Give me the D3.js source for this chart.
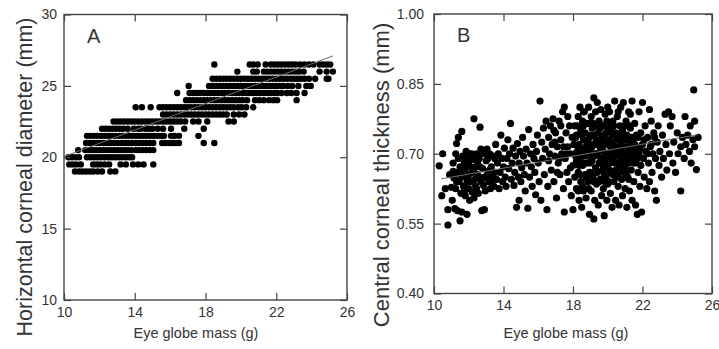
<!DOCTYPE html>
<html>
<head>
<meta charset="utf-8">
<script src="https://cdn.jsdelivr.net/npm/d3@7"></script>
<style>
  html, body { margin: 0; padding: 0; background: #fff; }
  svg { display: block; }
  text { font-family: "Liberation Sans", Arial, sans-serif; fill: #333; }
</style>
</head>
<body>
<script>
// ---------- Panel A data: horizontal corneal diameter (mm), recorded in 0.5 mm steps ----------
const diamLevels = [19, 19.5, 20, 20.5, 21, 21.5, 22, 22.5, 23, 23.5, 24, 24.5, 25, 25.5, 26, 26.5];
const massAt19   = [10.62, 10.85, 11.05, 11.25, 11.45, 11.65, 11.9, 12.15, 12.62, 12.9];
const massAt19_5 = [10.3, 10.5, 10.7, 10.95, 11.65, 11.85, 12.05, 12.3, 12.55, 13.2, 13.5, 13.9, 14.2, 14.5, 15.05];
const massAt20   = [10.25, 10.45, 10.65, 10.85, 11.3, 11.5, 11.7, 11.9, 12.1, 12.3, 12.5, 12.7, 12.9, 13.1, 13.3, 13.5, 13.7, 13.85];
const massAt20_5 = [10.8, 11.2, 11.4, 11.6, 11.8, 12.0, 12.2, 12.4, 12.6, 12.8, 13.0, 13.2, 13.4, 13.6, 13.8, 14.05, 14.25, 14.45, 14.65, 14.85, 15.05];
const massAt21   = [11.25, 11.45, 11.65, 11.85, 12.05, 12.25, 12.45, 12.65, 12.85, 13.05, 13.25, 13.45, 13.65, 13.85, 14.05, 14.25, 14.45, 14.65, 14.85, 15.05, 15.55, 15.75, 15.95, 16.15, 16.35, 16.5, 17.9, 18.5];
const massAt21_5 = [11.3, 11.5, 11.7, 11.9, 12.1, 12.3, 12.5, 12.7, 12.9, 13.1, 13.3, 13.5, 13.7, 13.9, 14.1, 14.3, 14.5, 14.7, 14.9, 15.1, 15.3, 15.5, 15.65, 16.05, 16.25, 16.5, 17.6];
const massAt22   = [12.15, 12.35, 12.55, 12.75, 12.95, 13.15, 13.35, 13.6, 13.95, 14.2, 14.35, 14.6, 14.8, 15.0, 15.3, 15.6, 16.05, 16.8, 17.9];
const massAt22_5 = [12.8, 13.0, 13.2, 13.4, 13.6, 13.8, 14.0, 14.2, 14.4, 14.6, 14.8, 15.0, 15.2, 15.4, 15.6, 15.8, 16.0, 16.2, 16.4, 16.6, 16.85, 17.3, 17.6, 18.1, 19.3, 19.6];
const massAt23   = [15.6, 15.8, 16.0, 16.2, 16.4, 16.6, 16.8, 17.0, 17.2, 17.4, 17.6, 17.8, 18.0, 18.2, 18.4, 18.6, 18.8, 19.0, 19.2, 19.6, 19.9, 20.2];
const massAt23_5 = [14.05, 14.4, 14.9, 15.4, 15.6, 15.8, 16.0, 16.2, 16.4, 16.6, 16.8, 17.0, 17.2, 17.4, 17.6, 17.8, 18.0, 18.2, 18.4, 18.6, 18.8, 19.0, 19.2, 19.4, 19.6, 19.85, 20.05, 20.3, 20.7];
const massAt24   = [16.9, 17.1, 17.3, 17.5, 17.7, 17.9, 18.1, 18.3, 18.5, 18.7, 18.9, 19.1, 19.3, 19.5, 19.7, 19.9, 20.1, 20.35, 20.8, 21.05, 21.3, 21.6, 21.85, 22.05, 23.15];
const massAt24_5 = [16.4, 17.1, 17.3, 17.5, 17.7, 17.9, 18.1, 18.3, 18.5, 18.7, 18.9, 19.1, 19.3, 19.5, 19.7, 19.9, 20.1, 20.3, 20.5, 20.7, 20.9, 21.1, 21.3, 21.5, 21.7, 21.9, 22.05, 22.3, 22.6, 22.85, 23.15, 23.6];
const massAt25   = [17.05, 18.2, 18.4, 18.6, 18.8, 19.0, 19.2, 19.4, 19.6, 19.8, 20.0, 20.2, 20.4, 20.6, 20.8, 21.0, 21.2, 21.4, 21.6, 21.8, 22.0, 22.2, 22.4, 22.65, 22.9, 23.25, 23.7, 23.95];
const massAt25_5 = [18.4, 18.6, 18.8, 19.0, 19.2, 19.4, 19.6, 19.8, 20.0, 20.2, 20.4, 20.6, 20.8, 21.0, 21.2, 21.4, 21.6, 21.8, 22.0, 22.2, 22.4, 22.6, 22.8, 23.0, 23.2, 23.4, 23.6, 23.85, 24.2, 24.85, 24.95];
const massAt26   = [19.8, 20.7, 20.9, 21.3, 21.5, 21.7, 21.9, 22.1, 22.3, 22.5, 22.7, 22.9, 23.1, 23.3, 23.55, 24.45, 24.85, 25.2];
const massAt26_5 = [18.5, 20.5, 20.7, 20.95, 21.4, 21.7, 21.9, 22.1, 22.3, 22.5, 22.7, 22.9, 23.1, 23.35, 23.6, 23.85, 24.1, 24.45, 24.65, 24.85, 25.05];
const massByLevel = [massAt19, massAt19_5, massAt20, massAt20_5, massAt21, massAt21_5, massAt22, massAt22_5,
                     massAt23, massAt23_5, massAt24, massAt24_5, massAt25, massAt25_5, massAt26, massAt26_5];
const fitA = [[10.0, 20.05], [25.2, 27.1]];

// ---------- Panel B data: [eye globe mass (g), central corneal thickness (mm)] ----------
const cctB1 = [[10.3,0.674],[10.5,0.700],[10.45,0.610],[10.8,0.547],[10.8,0.580],[10.65,0.625],[10.9,0.655],[11.0,0.628],[11.05,0.600],[11.1,0.680],[11.15,0.648],[11.2,0.582],[11.25,0.700],[11.3,0.660],[11.3,0.722],[11.4,0.735],[11.35,0.578],[11.45,0.640],[11.5,0.556],[11.5,0.672],[11.55,0.615],[11.6,0.748],[11.6,0.575],[11.65,0.695],[11.7,0.652],[11.7,0.630],[11.75,0.682],[11.8,0.610],[11.8,0.668],[11.85,0.705],[11.9,0.640],[11.9,0.570],[11.95,0.690],[12.0,0.625],[12.0,0.655],[12.05,0.600],[12.1,0.672],[12.1,0.640],[12.15,0.700],[12.2,0.618],[12.2,0.660],[12.25,0.688],[12.3,0.775],[12.3,0.605],[12.35,0.645],[12.4,0.630],[12.4,0.672],[12.45,0.700]];
const cctB2 = [[12.5,0.655],[12.55,0.615],[12.6,0.690],[12.65,0.757],[12.7,0.640],[12.75,0.578],[12.8,0.668],[12.85,0.700],[12.9,0.580],[12.9,0.650],[12.95,0.620],[13.0,0.685],[13.05,0.710],[13.1,0.660],[13.15,0.640],[13.2,0.700],[13.25,0.625],[13.3,0.672],[13.35,0.650],[13.4,0.695],[13.45,0.630],[13.5,0.660],[13.55,0.720],[13.6,0.645],[13.65,0.680],[13.7,0.700],[13.75,0.625],[13.8,0.660],[13.85,0.740],[13.9,0.690],[13.95,0.640],[14.0,0.672],[14.05,0.712],[14.1,0.650],[14.15,0.630],[14.2,0.690],[14.25,0.730],[14.3,0.668],[14.35,0.700],[14.4,0.765],[14.45,0.645],[14.5,0.680],[14.55,0.712],[14.6,0.632],[14.65,0.660],[14.7,0.695],[14.75,0.585],[14.8,0.722],[14.85,0.650],[14.9,0.600],[14.9,0.680],[14.95,0.705]];
const cctB3 = [[15.0,0.640],[15.05,0.670],[15.1,0.735],[15.15,0.695],[15.2,0.655],[15.25,0.620],[15.3,0.710],[15.35,0.680],[15.4,0.583],[15.45,0.752],[15.5,0.650],[15.55,0.700],[15.6,0.672],[15.65,0.630],[15.7,0.720],[15.75,0.690],[15.8,0.660],[15.85,0.612],[15.9,0.705],[15.95,0.740],[16.0,0.680],[16.05,0.640],[16.1,0.813],[16.15,0.600],[16.2,0.725],[16.25,0.690],[16.3,0.755],[16.35,0.655],[16.4,0.710],[16.45,0.770],[16.5,0.580],[16.55,0.630],[16.6,0.735],[16.65,0.700],[16.7,0.760],[16.75,0.665],[16.8,0.720],[16.85,0.775],[16.9,0.640],[16.95,0.695],[17.0,0.745],[17.05,0.605],[17.1,0.715],[17.15,0.680],[17.2,0.770],[17.25,0.655],[17.3,0.730],[17.35,0.700],[17.4,0.790],[17.45,0.625],[17.5,0.800],[17.5,0.575],[17.55,0.690],[17.6,0.745],[17.65,0.660],[17.7,0.715],[17.75,0.640],[17.8,0.760],[17.85,0.700],[17.9,0.610],[17.95,0.735],[18.0,0.580],[18.0,0.675]];
const cctB4 = [[18.05,0.720],[18.1,0.650],[18.1,0.760],[18.15,0.695],[18.2,0.625],[18.2,0.740],[18.25,0.705],[18.3,0.780],[18.3,0.660],[18.35,0.600],[18.35,0.720],[18.4,0.690],[18.4,0.800],[18.45,0.640],[18.45,0.750],[18.5,0.710],[18.5,0.585],[18.55,0.675],[18.55,0.770],[18.6,0.730],[18.6,0.620],[18.65,0.700],[18.65,0.790],[18.7,0.655],[18.7,0.745],[18.75,0.605],[18.75,0.715],[18.8,0.680],[18.8,0.765],[18.85,0.640],[18.85,0.725],[18.9,0.695],[18.9,0.800],[18.95,0.570],[18.95,0.660],[19.0,0.740],[19.0,0.705],[19.05,0.620],[19.05,0.780],[19.1,0.685],[19.1,0.755],[19.15,0.650],[19.15,0.720],[19.2,0.820],[19.2,0.560],[19.25,0.695],[19.25,0.600],[19.3,0.760],[19.3,0.670],[19.35,0.730],[19.35,0.635],[19.4,0.810],[19.4,0.700],[19.45,0.745],[19.45,0.590],[19.5,0.680],[19.5,0.770],[19.55,0.715],[19.55,0.645],[19.6,0.795],[19.6,0.690],[19.65,0.610],[19.65,0.735],[19.7,0.665],[19.7,0.760],[19.75,0.705],[19.75,0.625],[19.8,0.567],[19.8,0.740],[19.85,0.685],[19.85,0.785],[19.9,0.650],[19.9,0.720],[19.95,0.700],[19.95,0.600]];
const cctB5 = [[20.0,0.755],[20.0,0.675],[20.05,0.640],[20.05,0.730],[20.1,0.700],[20.1,0.790],[20.15,0.615],[20.15,0.715],[20.2,0.660],[20.2,0.750],[20.25,0.690],[20.25,0.585],[20.3,0.770],[20.3,0.725],[20.35,0.640],[20.35,0.705],[20.4,0.813],[20.4,0.680],[20.45,0.745],[20.45,0.600],[20.5,0.715],[20.5,0.655],[20.55,0.780],[20.55,0.695],[20.6,0.630],[20.6,0.735],[20.65,0.700],[20.65,0.590],[20.7,0.760],[20.7,0.670],[20.75,0.720],[20.75,0.800],[20.8,0.645],[20.8,0.705],[20.85,0.610],[20.85,0.750],[20.9,0.690],[20.9,0.810],[20.95,0.660],[20.95,0.730],[21.0,0.715],[21.0,0.625],[21.05,0.770],[21.05,0.695],[21.1,0.585],[21.1,0.740],[21.15,0.680],[21.15,0.650],[21.2,0.790],[21.2,0.710],[21.25,0.620],[21.3,0.755],[21.3,0.690],[21.35,0.665],[21.4,0.813],[21.4,0.600],[21.45,0.725],[21.5,0.700],[21.5,0.640],[21.55,0.765],[21.6,0.680],[21.6,0.590],[21.65,0.740],[21.7,0.715],[21.7,0.570],[21.75,0.660],[21.8,0.790],[21.8,0.700],[21.85,0.630],[21.9,0.745],[21.9,0.675],[21.95,0.575],[22.0,0.810],[22.0,0.720]];
const cctB6 = [[22.05,0.690],[22.1,0.650],[22.15,0.760],[22.2,0.705],[22.25,0.625],[22.3,0.735],[22.35,0.680],[22.4,0.795],[22.4,0.640],[22.45,0.715],[22.5,0.770],[22.55,0.660],[22.6,0.700],[22.65,0.745],[22.7,0.620],[22.75,0.690],[22.8,0.600],[22.85,0.725],[22.9,0.760],[22.95,0.675],[23.0,0.705],[23.1,0.650],[23.15,0.740],[23.2,0.690],[23.3,0.785],[23.35,0.720],[23.4,0.665],[23.5,0.790],[23.55,0.700],[23.6,0.760],[23.7,0.780],[23.75,0.680],[23.8,0.725],[23.9,0.660],[24.0,0.745],[24.05,0.700],[24.2,0.620],[24.2,0.715],[24.3,0.735],[24.4,0.690],[24.45,0.780],[24.5,0.720],[24.6,0.740],[24.7,0.705],[24.75,0.760],[24.8,0.680],[24.9,0.730],[24.95,0.837],[25.0,0.770],[25.0,0.715],[25.1,0.666],[25.2,0.735]];
const cctB7 = [[18.2,0.685],[18.3,0.715],[18.4,0.655],[18.5,0.740],[18.6,0.695],[18.7,0.680],[18.8,0.720],[18.9,0.655],[19.0,0.680],[19.1,0.715],[19.2,0.740],[19.3,0.700],[19.4,0.660],[19.5,0.725],[19.6,0.710],[19.7,0.690],[19.8,0.655],[19.9,0.745],[20.0,0.700],[20.1,0.665],[20.2,0.725],[20.3,0.690],[20.4,0.740],[20.5,0.680],[20.6,0.710],[20.7,0.695],[20.8,0.735],[20.9,0.715],[21.0,0.670],[21.1,0.700],[21.2,0.680],[21.3,0.720],[21.4,0.695],[21.5,0.735],[21.6,0.710],[21.7,0.690],[18.25,0.760],[18.55,0.630],[18.95,0.765],[19.25,0.640],[19.55,0.755],[19.75,0.675],[20.15,0.760],[20.45,0.665],[20.75,0.690],[21.05,0.655],[21.35,0.735],[11.6,0.660],[11.9,0.675],[12.2,0.640],[12.5,0.680],[12.0,0.700],[11.3,0.640],[13.0,0.650],[13.5,0.690],[12.7,0.710]];
const cctB8 = [[11.1,0.662],[11.4,0.690],[11.55,0.650],[11.75,0.620],[12.05,0.685],[12.3,0.662],[12.45,0.625],[12.6,0.650],[12.85,0.632],[13.1,0.690],[13.3,0.640],[11.95,0.645],[12.65,0.672],[13.2,0.665],[11.25,0.625],[16.6,0.685],[16.9,0.750],[17.1,0.660],[17.3,0.760],[17.45,0.715],[17.7,0.780],[17.85,0.670],[17.6,0.700],[16.95,0.725],[17.2,0.690],[18.15,0.735],[18.35,0.675],[18.45,0.700],[18.6,0.760],[18.75,0.650],[18.85,0.705],[18.95,0.735],[19.05,0.690],[19.15,0.765],[19.2,0.640],[19.35,0.700],[19.45,0.720],[19.55,0.680],[19.65,0.760],[19.75,0.725],[19.85,0.640],[19.95,0.770],[20.05,0.695],[20.15,0.680],[20.25,0.740],[20.35,0.760],[20.45,0.700],[20.55,0.730],[20.65,0.660],[20.75,0.745],[20.85,0.680],[20.95,0.700],[21.05,0.730],[21.15,0.715],[21.25,0.760],[21.35,0.700],[21.45,0.680],[21.55,0.720],[21.65,0.690],[21.75,0.735],[21.85,0.710],[22.1,0.730],[22.3,0.700],[22.5,0.720],[22.7,0.735],[18.3,0.620],[18.9,0.625],[19.5,0.640],[20.0,0.635],[20.6,0.650],[21.2,0.645],[18.6,0.790],[19.3,0.790],[20.0,0.800],[20.6,0.790],[21.3,0.785],[18.1,0.700],[19.0,0.660],[19.9,0.670],[20.3,0.655],[21.0,0.760]];
const fitB = [[10.4, 0.646], [25.2, 0.741]];

// ---------- Axis ticks and labels ----------
const massTicks = [10, 14, 18, 22, 26];
const diamTicks = [10, 15, 20, 25, 30];
const cctTicks = [0.40, 0.55, 0.70, 0.85, 1.00];
const xTitle = "Eye globe mass (g)";
const yTitleA = "Horizontal corneal diameter (mm)";
const yTitleB = "Central corneal thickness (mm)";

// ---------- Drawing ----------
const W = 719, H = 349;
const svg = d3.select("body").append("svg").attr("width", W).attr("height", H);
svg.append("rect").attr("width", W).attr("height", H).attr("fill", "#fff");

function panel(cfg) {
  const { x, y, points, fit, yTicks, yFmt, yPad, letter, yTitle, yTitlePos, yTitleSize, xTitlePos, r } = cfg;
  const [x0, x1] = x.range(), [y0, y1] = y.range();
  const g = svg.append("g");

  // points
  g.append("g").selectAll("circle").data(points).join("circle")
    .attr("cx", d => x(d[0])).attr("cy", d => y(d[1])).attr("r", r).attr("fill", "#000");

  // regression line
  g.append("path").datum(fit)
    .attr("d", d3.line().x(d => x(d[0])).y(d => y(d[1])))
    .attr("fill", "none").attr("stroke", "#6e6e6e").attr("stroke-width", 1);

  const tickLen = 7, axCol = "#444";
  const styleAxis = sel => {
    sel.select(".domain").remove();
    sel.selectAll(".tick line").attr("stroke", axCol).attr("stroke-width", 1.2);
    sel.selectAll(".tick text").attr("fill", "#333").style("font-size", "14px")
      .style("font-family", '"Liberation Sans", Arial, sans-serif');
  };
  g.append("g").attr("transform", `translate(0,${y0})`)
    .call(d3.axisBottom(x).tickValues(massTicks).tickFormat(d3.format("d")).tickSizeInner(-tickLen).tickSizeOuter(0).tickPadding(7))
    .call(styleAxis);
  g.append("g").attr("transform", `translate(0,${y1})`)
    .call(d3.axisTop(x).tickValues(massTicks).tickFormat("").tickSizeInner(-tickLen).tickSizeOuter(0))
    .call(styleAxis);
  g.append("g").attr("transform", `translate(${x0},0)`)
    .call(d3.axisLeft(y).tickValues(yTicks).tickFormat(yFmt).tickSizeInner(-tickLen).tickSizeOuter(0).tickPadding(yPad))
    .call(styleAxis);
  g.append("g").attr("transform", `translate(${x1},0)`)
    .call(d3.axisRight(y).tickValues(yTicks).tickFormat("").tickSizeInner(-tickLen).tickSizeOuter(0))
    .call(styleAxis);

  // frame
  g.append("rect").attr("x", x0).attr("y", y1).attr("width", x1 - x0).attr("height", y0 - y1)
    .attr("fill", "none").attr("stroke", axCol).attr("stroke-width", 1.4);

  // panel letter
  g.append("text").attr("x", x0 + 23).attr("y", y1 + 28).style("font-size", "20px").text(letter);

  // titles
  g.append("text").attr("x", xTitlePos[0]).attr("y", xTitlePos[1]).attr("text-anchor", "middle")
    .style("font-size", "14.5px").text(xTitle);
  g.append("text").attr("transform", `translate(${yTitlePos[0]},${yTitlePos[1]}) rotate(-90)`)
    .attr("text-anchor", "middle").attr("dy", "0.35em").style("font-size", yTitleSize + "px").text(yTitle);
}

const xA = d3.scaleLinear().domain([10, 26]).range([64, 347]);
const yA = d3.scaleLinear().domain([10, 30]).range([300, 14.5]);
const pointsA = diamLevels.flatMap((lvl, i) => massByLevel[i].map(m => [m, lvl]));
panel({ x: xA, y: yA, points: pointsA, fit: fitA, yTicks: diamTicks, yFmt: d3.format("d"), yPad: 7,
        letter: "A", yTitle: yTitleA, yTitlePos: [24, 177], yTitleSize: 21.5, xTitlePos: [196, 338], r: 3.2 });

const xB = d3.scaleLinear().domain([10, 26]).range([434, 712]);
const yB = d3.scaleLinear().domain([0.40, 1.00]).range([293.5, 14]);
const pointsB = [].concat(cctB1, cctB2, cctB3, cctB4, cctB5, cctB6, cctB7, cctB8);
panel({ x: xB, y: yB, points: pointsB, fit: fitB, yTicks: cctTicks, yFmt: d3.format(".2f"), yPad: 10,
        letter: "B", yTitle: yTitleB, yTitlePos: [381, 175], yTitleSize: 22, xTitlePos: [566, 338], r: 3.6 });
</script>
</body>
</html>
